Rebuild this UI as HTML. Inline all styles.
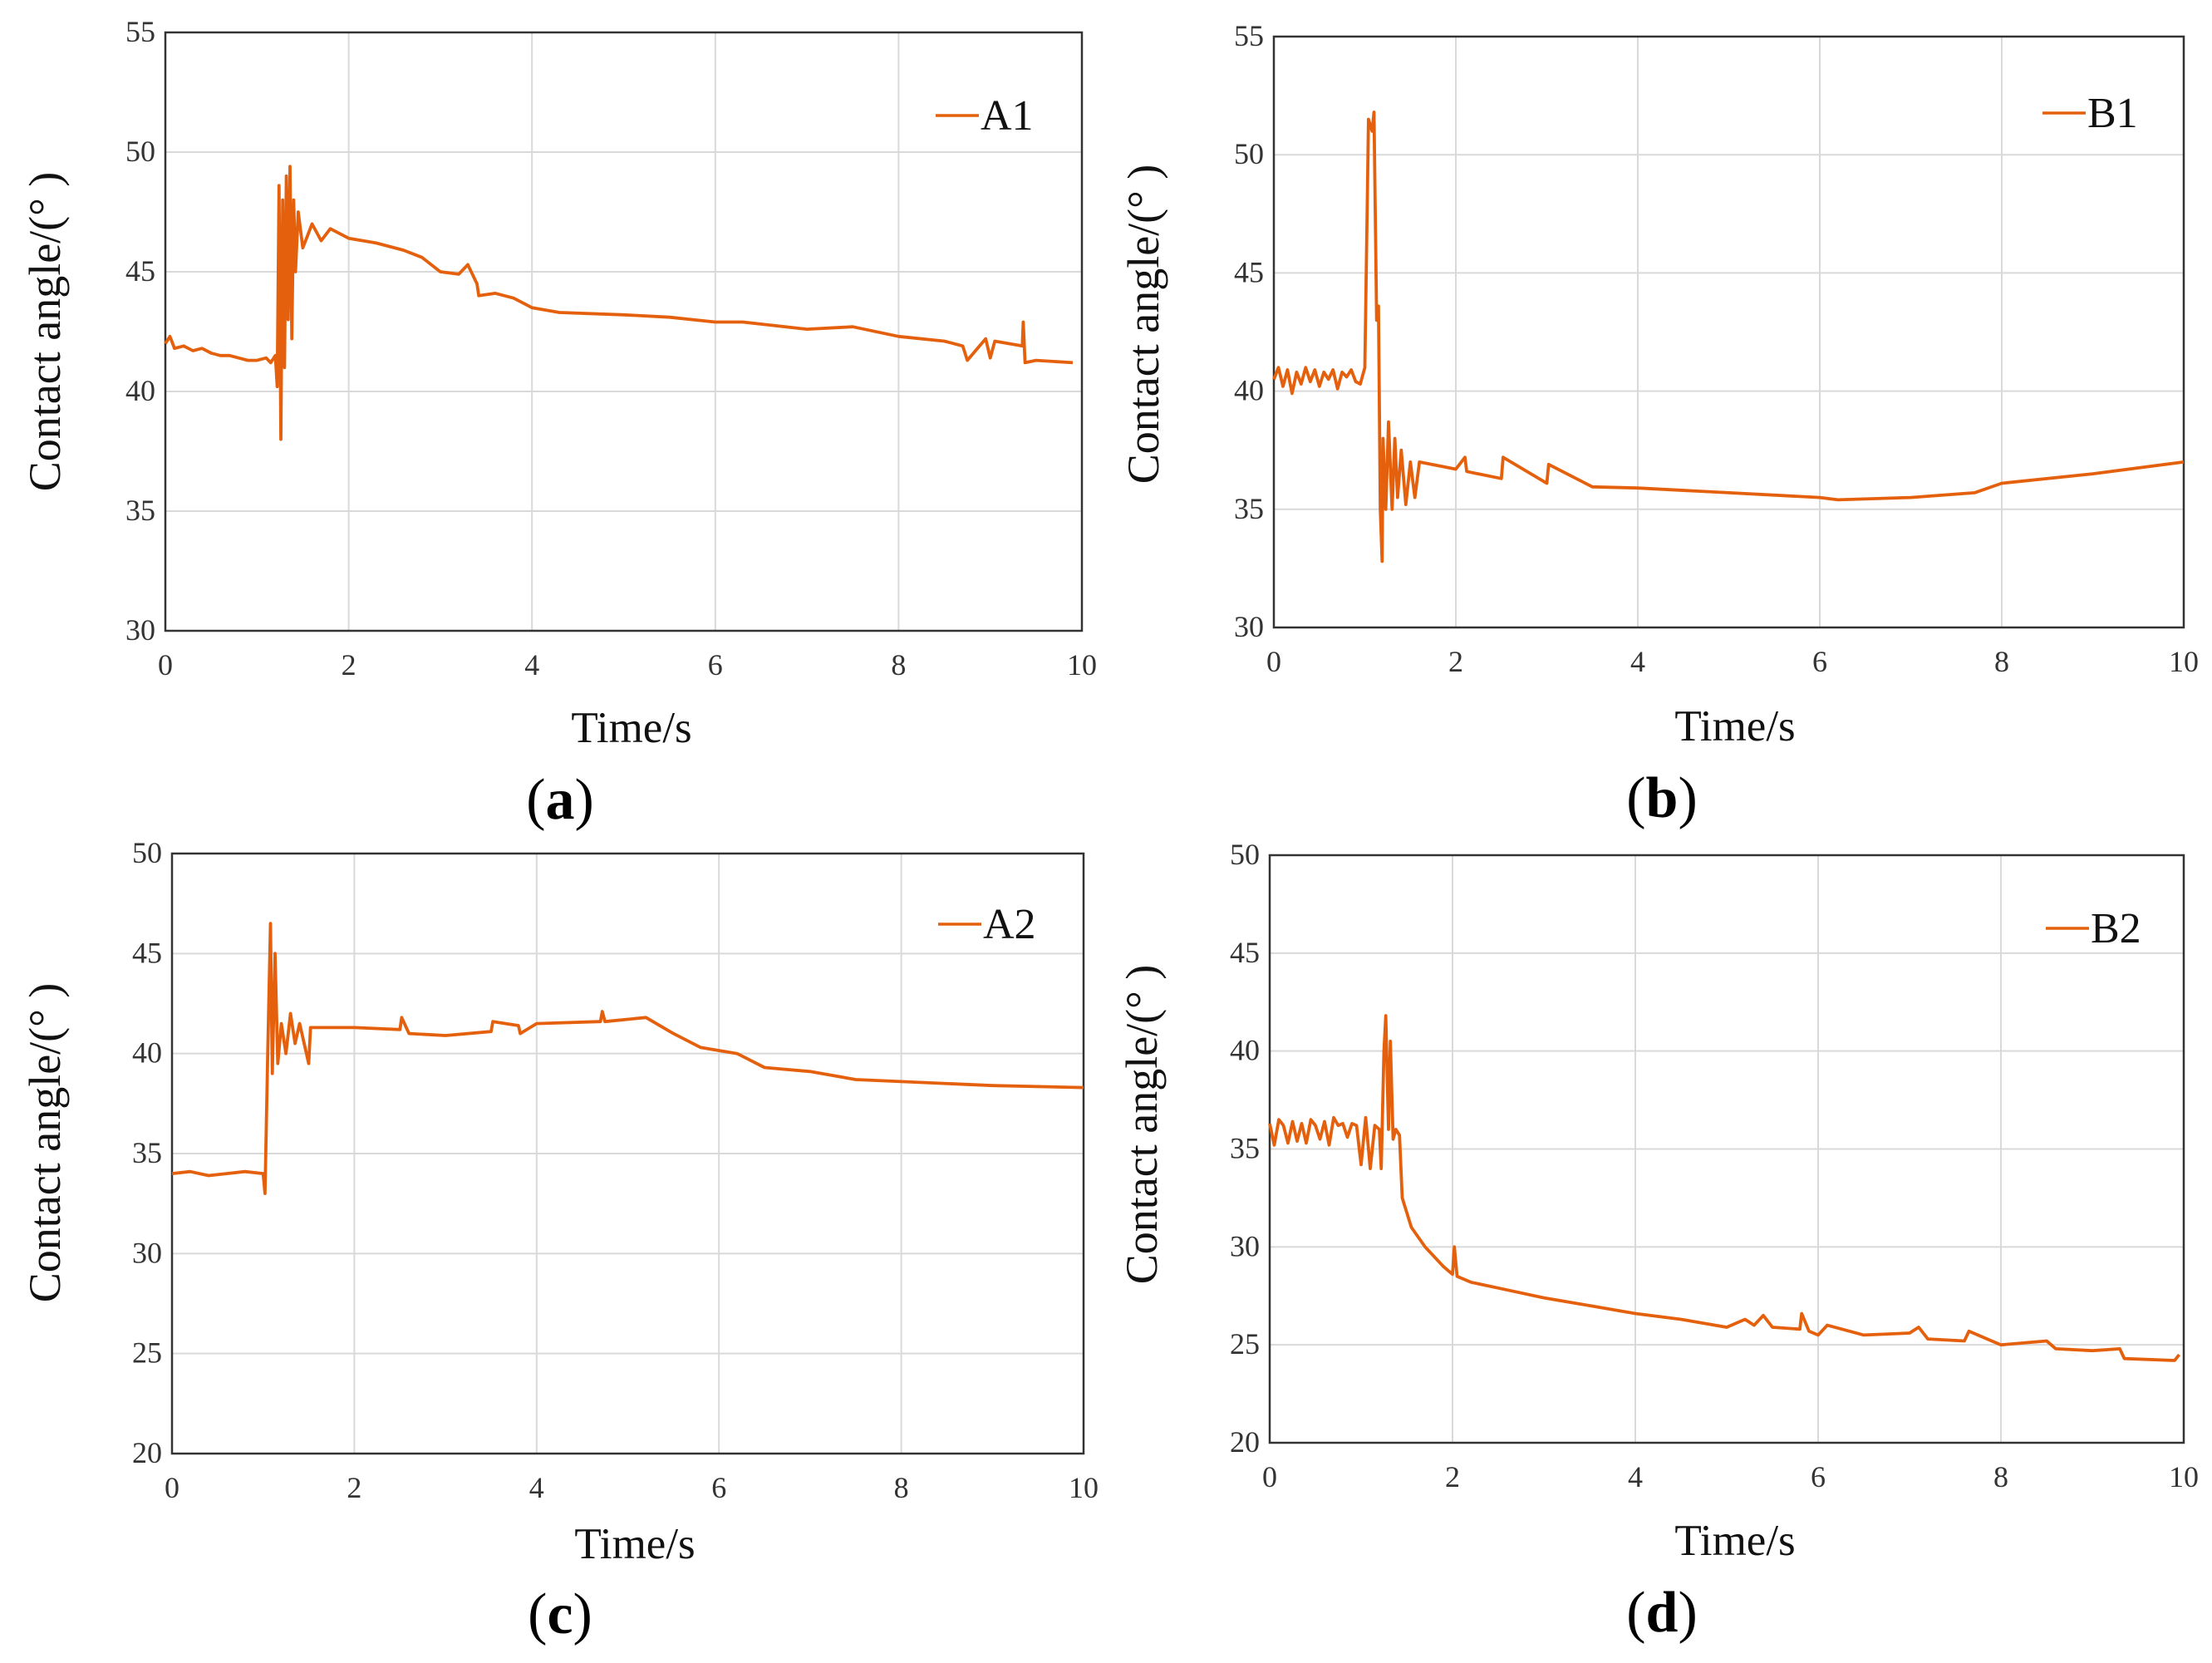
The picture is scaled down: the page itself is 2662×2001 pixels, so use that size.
<!DOCTYPE html>
<html><head><meta charset="utf-8"><style>
html,body{margin:0;padding:0;background:#fff;}
svg{display:block;font-family:"Liberation Serif",serif;}
</style></head><body>
<svg id="fig" width="2662" height="2001" viewBox="0 0 2662 2001"></svg>
<script>
const xTicks=[0,2,4,6,8,10];
const a1Time=[0,0.05,0.1,0.2,0.3,0.4,0.5,0.6,0.7,0.8,0.9,1.0,1.1,1.15,1.2,1.22,1.24,1.26,1.28,1.30,1.32,1.34,1.36,1.38,1.40,1.42,1.45,1.5,1.55,1.6,1.7,1.8,2.0,2.3,2.6,2.8,3.0,3.2,3.3,3.4,3.42,3.6,3.8,4.0,4.3,5.0,5.5,6.0,6.3,7.0,7.5,8.0,8.5,8.7,8.75,8.95,9.0,9.05,9.35,9.36,9.38,9.5,9.9];
const a1Vals=[42.0,42.3,41.8,41.9,41.7,41.8,41.6,41.5,41.5,41.4,41.3,41.3,41.4,41.2,41.5,40.2,48.6,38.0,48.0,41.0,49.0,43.0,49.4,42.2,48.0,45.0,47.5,46.0,46.5,47.0,46.3,46.8,46.4,46.2,45.9,45.6,45.0,44.9,45.3,44.5,44.0,44.1,43.9,43.5,43.3,43.2,43.1,42.9,42.9,42.6,42.7,42.3,42.1,41.9,41.3,42.2,41.4,42.1,41.9,42.9,41.2,41.3,41.2];
const b1Time=[0,0.05,0.1,0.15,0.2,0.25,0.3,0.35,0.4,0.45,0.5,0.55,0.6,0.65,0.7,0.75,0.8,0.85,0.9,0.95,1.0,1.04,1.08,1.1,1.13,1.15,1.17,1.19,1.2,1.23,1.26,1.3,1.33,1.36,1.4,1.45,1.5,1.55,1.6,2.0,2.1,2.12,2.5,2.52,3.0,3.02,3.5,4.0,5.0,6.0,6.2,7.0,7.7,8.0,9.0,10.0];
const b1Vals=[40.5,41.0,40.2,40.9,39.9,40.8,40.3,41.0,40.4,40.9,40.2,40.8,40.5,40.9,40.1,40.8,40.6,40.9,40.4,40.3,41.0,51.5,51.0,51.8,43.0,43.6,35.0,32.8,38.0,35.0,38.7,35.0,38.0,35.5,37.5,35.2,37.0,35.5,37.0,36.7,37.2,36.6,36.3,37.2,36.1,36.9,35.95,35.9,35.7,35.5,35.4,35.5,35.7,36.1,36.5,37.0];
const a2Time=[0,0.2,0.4,0.6,0.8,1.0,1.02,1.05,1.08,1.1,1.13,1.16,1.2,1.25,1.3,1.35,1.4,1.5,1.52,2.0,2.5,2.52,2.6,3.0,3.5,3.52,3.8,3.82,4.0,4.7,4.72,4.75,5.2,5.5,5.8,6.2,6.5,7.0,7.5,8.0,9.0,10.0];
const a2Vals=[34.0,34.1,33.9,34.0,34.1,34.0,33.0,40.0,46.5,39.0,45.0,39.5,41.5,40.0,42.0,40.5,41.5,39.5,41.3,41.3,41.2,41.8,41.0,40.9,41.1,41.6,41.4,41.0,41.5,41.6,42.1,41.6,41.8,41.0,40.3,40.0,39.3,39.1,38.7,38.6,38.4,38.3];
const b2Time=[0,0.05,0.1,0.15,0.2,0.25,0.3,0.35,0.4,0.45,0.5,0.55,0.6,0.65,0.7,0.75,0.8,0.85,0.9,0.95,1.0,1.05,1.1,1.15,1.2,1.22,1.25,1.27,1.3,1.32,1.35,1.38,1.42,1.45,1.55,1.7,1.9,2.0,2.02,2.05,2.2,2.5,3.0,3.5,4.0,4.5,5.0,5.2,5.3,5.4,5.5,5.8,5.82,5.9,6.0,6.1,6.5,7.0,7.1,7.2,7.6,7.65,8.0,8.5,8.6,9.0,9.3,9.35,9.9,9.95];
const b2Vals=[36.3,35.2,36.5,36.2,35.3,36.4,35.4,36.3,35.3,36.5,36.2,35.5,36.4,35.2,36.6,36.2,36.3,35.6,36.3,36.2,34.2,36.6,34.0,36.2,36.0,34.0,40.0,41.8,36.0,40.5,35.5,36.0,35.7,32.5,31.0,30.0,29.0,28.6,30.0,28.5,28.2,27.9,27.4,27.0,26.6,26.3,25.9,26.3,26.0,26.5,25.9,25.8,26.6,25.7,25.5,26.0,25.5,25.6,25.9,25.3,25.2,25.7,25.0,25.2,24.8,24.7,24.8,24.3,24.2,24.5];
const yTicksA1=[30,35,40,45,50,55];
const yTicksB1=[30,35,40,45,50,55];
const yTicksA2=[20,25,30,35,40,45,50];
const yTicksB2=[20,25,30,35,40,45,50];

const NS='http://www.w3.org/2000/svg';
const svg=document.getElementById('fig');
function mk(tag,attrs,parent){const e=document.createElementNS(NS,tag);for(const k in attrs)e.setAttribute(k,attrs[k]);(parent||svg).appendChild(e);return e;}

function panel(id,box,yTicks,times,vals,legend,leg,ylab,xlab,tag,tagPos){
  const g=mk('g',{});
  
  
  const y0=yTicks[0],y1=yTicks[yTicks.length-1];
  const sx=v=>box.l+(v-0)/(10-0)*(box.r-box.l);
  const sy=v=>box.b-(v-y0)/(y1-y0)*(box.b-box.t);
  yTicks.forEach(t=>{
    const ln=mk('line',{x1:box.l,x2:box.r,y1:sy(t),y2:sy(t),stroke:'#d9d9d9','stroke-width':2},g);
    
    
    const tx=mk('text',{x:box.l-12,y:sy(t)+11,'text-anchor':'end','font-size':36,fill:'#333'},g);
    tx.textContent=t;
    
    
  });
  xTicks.forEach(t=>{
    const ln=mk('line',{x1:sx(t),x2:sx(t),y1:box.t,y2:box.b,stroke:'#d9d9d9','stroke-width':2},g);
    
    
    const tx=mk('text',{x:sx(t),y:box.b+53,'text-anchor':'middle','font-size':36,fill:'#333'},g);
    tx.textContent=t;
    
    
  });
  const fr=mk('rect',{x:box.l,y:box.t,width:box.r-box.l,height:box.b-box.t,fill:'none',stroke:'#333','stroke-width':2.5},g);
  
  
  const pts=times.map((t,i)=>sx(t).toFixed(1)+','+sy(vals[i]).toFixed(1)).join(' ');
  const pl=mk('polyline',{points:pts,fill:'none',stroke:'#e4600c','stroke-width':3.8,'stroke-linejoin':'round'},g);
  
  
  const lg=mk('g',{},g);
  
  
  mk('line',{x1:leg.x,x2:leg.x+52,y1:leg.y,y2:leg.y,stroke:'#e4600c','stroke-width':3.5},lg);
  const lt=mk('text',{x:leg.x+54,y:leg.y+17,'font-size':52,fill:'#111'},lg);
  lt.textContent=legend;
  const yl=mk('text',{x:ylab.x,y:ylab.y,'text-anchor':'middle','font-size':54,fill:'#111',transform:'rotate(-90 '+ylab.x+' '+ylab.y+')'},g);
  yl.textContent='Contact angle/(° )';
  
  
  const xl=mk('text',{x:xlab.x,y:xlab.y,'text-anchor':'middle','font-size':53,fill:'#111'},g);
  xl.textContent='Time/s';
  
  
  const tg=mk('text',{x:tagPos.x,y:tagPos.y,'text-anchor':'middle','font-size':70,fill:'#000'},g);
  tg.innerHTML='(<tspan font-weight="bold">'+tag+'</tspan>)';
  
  
}
panel('a',{l:199,r:1302,t:39,b:759},yTicksA1,a1Time,a1Vals,'A1',{x:1126,y:139},{x:72,y:399},{x:760,y:893},'a',{x:674,y:985});
panel('b',{l:1533,r:2628,t:44,b:755},yTicksB1,b1Time,b1Vals,'B1',{x:2458,y:136},{x:1394,y:390},{x:2088,y:891},'b',{x:2000,y:983});
panel('c',{l:207,r:1304,t:1027,b:1749},yTicksA2,a2Time,a2Vals,'A2',{x:1129,y:1112},{x:72,y:1375},{x:764,y:1875},'c',{x:674,y:1965});
panel('d',{l:1528,r:2628,t:1029,b:1736},yTicksB2,b2Time,b2Vals,'B2',{x:2462,y:1117},{x:1392,y:1353},{x:2088,y:1871},'d',{x:2000,y:1963});
</script>
</body></html>
